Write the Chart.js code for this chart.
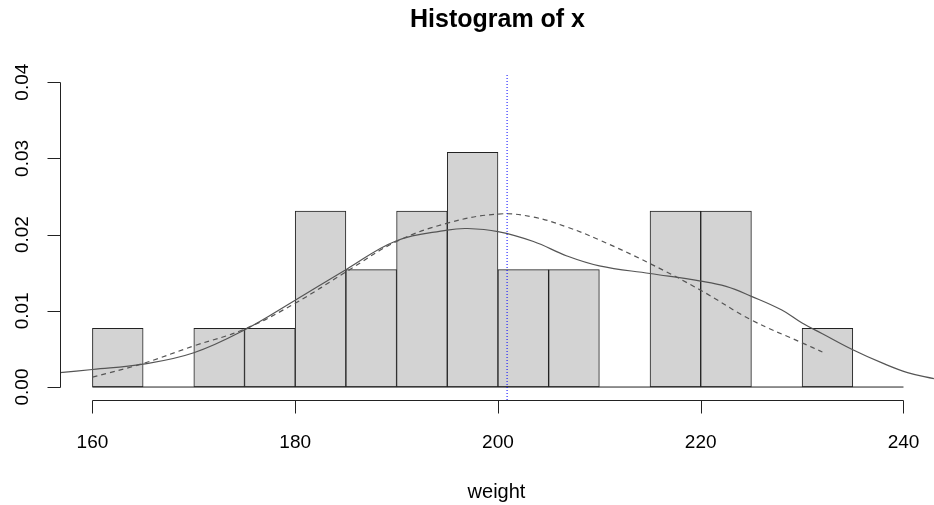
<!DOCTYPE html>
<html>
<head>
<meta charset="utf-8">
<script src="https://cdn.jsdelivr.net/npm/chart.js@4.4.1/dist/chart.umd.min.js"></script>
<style>
  html, body { margin: 0; padding: 0; background: #fff; }
  #wrap { width: 934px; height: 505px; position: relative; }
</style>
</head>
<body>
<div id="wrap"><canvas id="histChart"></canvas></div>
<script>
// histogram bins (width 5) and densities
const binCenters = [162.5, 167.5, 172.5, 177.5, 182.5, 187.5, 192.5, 197.5, 202.5, 207.5, 212.5, 217.5, 222.5, 227.5, 232.5];
const binDensity = [0.0077, 0, 0.0077, 0.0077, 0.0231, 0.0154, 0.0231, 0.0308, 0.0154, 0.0154, 0, 0.0231, 0.0231, 0, 0.0077];

// solid density curve
const solidX = [156.8, 160, 165, 170, 175, 180, 185, 190, 195, 197, 200, 203.5, 206.8, 210, 215, 220, 222.5, 225, 228, 230, 232, 235, 238, 240.4, 243];
const solidY = [0.0019, 0.0023, 0.0030, 0.0045, 0.0075, 0.0114, 0.0154, 0.0192, 0.0206, 0.0208, 0.0204, 0.0191, 0.0172, 0.0159, 0.0149, 0.0139, 0.0132, 0.0119, 0.0101, 0.0084, 0.0070, 0.0049, 0.0031, 0.0019, 0.0011];

// dashed curve
const dashX = [160, 165, 170, 175, 180, 185, 190, 195, 200, 203.5, 206.8, 210, 215, 220, 225, 230, 232];
const dashY = [0.0013, 0.0031, 0.0054, 0.0076, 0.0110, 0.0151, 0.0191, 0.0215, 0.0227, 0.0223, 0.0210, 0.0193, 0.0162, 0.0127, 0.0088, 0.0058, 0.0046];

// mean line
const meanX = 200.9;
const meanLineY = [-0.0017, 0.0412];

const xTicks = [160, 180, 200, 220, 240];
const yTicks = [0, 0.01, 0.02, 0.03, 0.04];
const yTickLabels = ["0.00", "0.01", "0.02", "0.03", "0.04"];

const FONT = '"Liberation Sans", Arial, sans-serif';

const rAxes = {
    id: "rAxes",
    afterDraw(chart) {
        const ctx = chart.ctx;
        const xs = chart.scales.x;
        const ys = chart.scales.y;
        const area = chart.chartArea;
        ctx.save();
        ctx.strokeStyle = "#222";
        ctx.lineWidth = 1;
        ctx.fillStyle = "#000";

        // x axis
        const axY = Math.round(area.bottom) + 0.5;
        const x0 = Math.round(xs.getPixelForValue(xTicks[0])) + 0.5;
        const x1 = Math.round(xs.getPixelForValue(xTicks[xTicks.length - 1])) + 0.5;
        ctx.beginPath();
        ctx.moveTo(x0, axY);
        ctx.lineTo(x1, axY);
        xTicks.forEach(t => {
            const px = Math.round(xs.getPixelForValue(t)) + 0.5;
            ctx.moveTo(px, axY);
            ctx.lineTo(px, axY + 13);
        });
        ctx.stroke();
        ctx.font = "19px " + FONT;
        ctx.textAlign = "center";
        ctx.textBaseline = "alphabetic";
        xTicks.forEach(t => {
            ctx.fillText(String(t), xs.getPixelForValue(t), 448);
        });

        // y axis
        const axX = Math.round(area.left) + 0.5;
        const y0 = Math.round(ys.getPixelForValue(yTicks[0])) + 0.5;
        const y1 = Math.round(ys.getPixelForValue(yTicks[yTicks.length - 1])) + 0.5;
        ctx.beginPath();
        ctx.moveTo(axX, y0);
        ctx.lineTo(axX, y1);
        yTicks.forEach(t => {
            const py = Math.round(ys.getPixelForValue(t)) + 0.5;
            ctx.moveTo(axX, py);
            ctx.lineTo(axX - 13, py);
        });
        ctx.stroke();
        yTicks.forEach((t, i) => {
            ctx.save();
            ctx.translate(28, ys.getPixelForValue(t));
            ctx.rotate(-Math.PI / 2);
            ctx.fillText(yTickLabels[i], 0, 0);
            ctx.restore();
        });

        // titles
        ctx.font = "bold 25px " + FONT;
        ctx.fillText("Histogram of x", 497.5, 27);
        ctx.font = "20px " + FONT;
        ctx.fillText("weight", 496.5, 498);
        ctx.restore();
    }
};

new Chart(
    document.getElementById("histChart"),
    {
        type: "bar",
        data: {
            datasets: [
                {
                    type: "line",
                    order: 0,
                    data: meanLineY.map(v => ({ x: meanX, y: v })),
                    borderColor: "#0000ff",
                    borderWidth: 1,
                    borderDash: [1, 2],
                    pointRadius: 0,
                    clip: false
                },
                {
                    type: "line",
                    order: 1,
                    data: solidX.map((x, i) => ({ x: x, y: solidY[i] })),
                    borderColor: "#555",
                    borderWidth: 1.2,
                    pointRadius: 0,
                    tension: 0.4
                },
                {
                    type: "line",
                    order: 1,
                    data: dashX.map((x, i) => ({ x: x, y: dashY[i] })),
                    borderColor: "#555",
                    borderWidth: 1.2,
                    borderDash: [5, 4],
                    pointRadius: 0,
                    tension: 0.4
                },
                {
                    type: "line",
                    order: 2,
                    data: [{ x: 160, y: 0 }, { x: 240, y: 0 }],
                    borderColor: "#222",
                    borderWidth: 1,
                    pointRadius: 0
                },
                {
                    type: "bar",
                    order: 3,
                    data: binCenters.map((x, i) => ({ x: x, y: binDensity[i] })),
                    backgroundColor: "#d3d3d3",
                    borderColor: "#222",
                    borderWidth: 1,
                    borderSkipped: false,
                    barPercentage: 1,
                    categoryPercentage: 1
                }
            ]
        },
        options: {
            responsive: true,
            maintainAspectRatio: false,
            animation: false,
            layout: {
                padding: { left: 60, right: 0, top: 70, bottom: 105 }
            },
            plugins: {
                legend: { display: false },
                tooltip: { enabled: false },
                title: { display: false }
            },
            scales: {
                x: { type: "linear", display: false, offset: false, min: 156.8, max: 243.01 },
                y: { type: "linear", display: false, min: -0.0017, max: 0.0416 }
            }
        },
        plugins: [rAxes]
    }
);
</script>
</body>
</html>
